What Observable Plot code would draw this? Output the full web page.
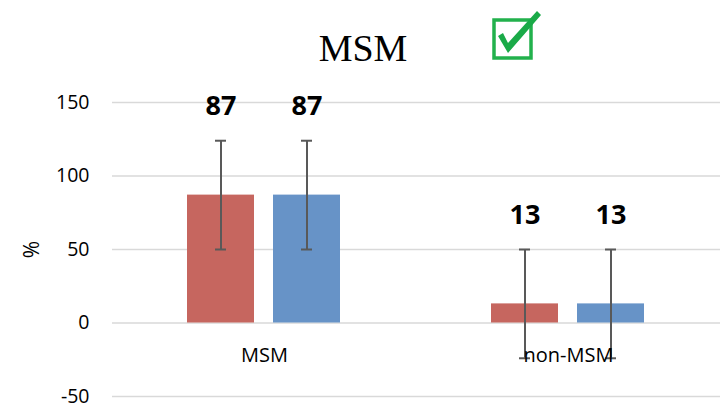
<!DOCTYPE html>
<html>
<head>
<meta charset="utf-8">
<script src="https://cdn.jsdelivr.net/npm/d3@7"></script>
<script src="https://cdn.jsdelivr.net/npm/@observablehq/plot@0.6"></script>
<style>
  html, body { margin: 0; padding: 0; background: #fff; }
  #wrap { position: relative; width: 726px; height: 403px; overflow: hidden; }
  #header { position: relative; width: 726px; height: 70px; }
  #title { position: absolute; left: 0; width: 726px; top: 29px; text-align: center;
           font-family: "Liberation Serif", "DejaVu Serif", serif; font-size: 38px; line-height: 38px; color: #000; }
  #check { position: absolute; left: 488px; top: 10px; }
  #chart svg text[transform*="rotate"] { font-size: 21px; }
</style>
</head>
<body>
<div id="wrap">
  <div id="header">
    <div id="title">MSM</div>
    <svg id="check" width="58" height="54" viewBox="488 10 58 54">
      <rect x="494" y="20" width="37" height="38" fill="#fff" stroke="#22b14c" stroke-width="3.5"/>
      <path d="M498,36 L503,33 L508,43 L537,11 L541,15 L508,53 Z" fill="#1aaa48"/>
    </svg>
  </div>
  <div id="chart"></div>
</div>
<script>
const categories = ["MSM", "non-MSM"];
const series = ["Series 1", "Series 2"];
const values = [[87, 87], [13, 13]];
const errors = [[37, 37], [37, 37]];
const yTicks = [-50, 0, 50, 100, 150];
const colors = ["#C6665F", "#6793C7"];

const rows = [];
categories.forEach((c, i) => series.forEach((s, j) => {
  rows.push({category: c, series: s, value: values[i][j], err: errors[i][j]});
}));

const chart = Plot.plot({
  width: 726,
  height: 333,
  marginTop: 32,
  marginBottom: 7,
  marginLeft: 111,
  marginRight: 6,
  style: {fontFamily: "'Open Sans', sans-serif", background: "#fff", color: "#000"},
  fx: {domain: categories, padding: 0, axis: null},
  x: {domain: series, paddingInner: 0.22, paddingOuter: 0.86, axis: null},
  y: {domain: [-50, 150], ticks: yTicks, label: "%"},
  color: {domain: series, range: colors},
  marks: [
    Plot.gridY(yTicks, {stroke: "#d9d9d9", strokeOpacity: 1, strokeWidth: 1.4}),
    Plot.axisY(yTicks, {tickSize: 0, tickPadding: 23, fontSize: 19.5, tickFormat: d => String(d), label: "%", labelAnchor: "center", labelOffset: 88, labelArrow: "none"}),
    Plot.barY(rows, {fx: "category", x: "series", y: "value", fill: "series"}),
    Plot.ruleX(rows, {fx: "category", x: "series", y1: d => d.value - d.err, y2: d => d.value + d.err, stroke: "#595959", strokeWidth: 2}),
    Plot.tickY(rows, {fx: "category", x: "series", y: d => d.value + d.err, stroke: "#595959", strokeWidth: 2, insetLeft: 28, insetRight: 28}),
    Plot.tickY(rows, {fx: "category", x: "series", y: d => d.value - d.err, stroke: "#595959", strokeWidth: 2, insetLeft: 28, insetRight: 28}),
    Plot.text(rows, {fx: "category", x: "series", y: d => d.value + d.err, text: d => String(d.value), dy: -26, lineAnchor: "bottom", fontSize: 27, fontWeight: "bold", fill: "#000"}),
    Plot.text(categories, {fx: d => d, y: () => 0, text: d => d, dy: 33, lineAnchor: "middle", fontSize: 20, fill: "#000"})
  ]
});
document.getElementById("chart").appendChild(chart);
</script>
</body>
</html>
